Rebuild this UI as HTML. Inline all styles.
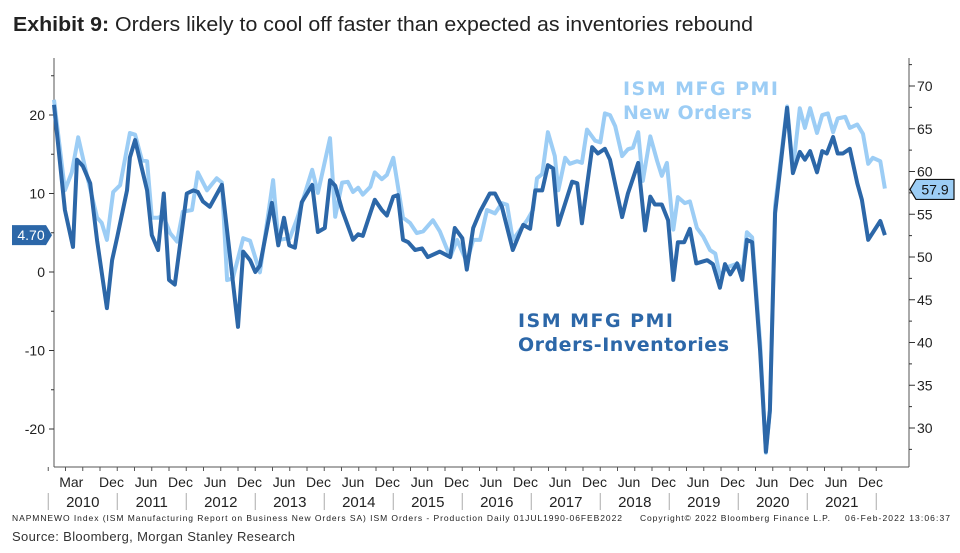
<!DOCTYPE html>
<html><head><meta charset="utf-8">
<style>
html,body{margin:0;padding:0;background:#fff;}
body{width:960px;height:553px;overflow:hidden;font-family:"Liberation Sans",sans-serif;}
svg{display:block}
</style></head>
<body>
<svg id="chart" width="960" height="553" viewBox="0 0 960 553">
<text x="13" y="31" font-size="20" fill="#222" textLength="740" lengthAdjust="spacingAndGlyphs"><tspan font-weight="bold">Exhibit 9:</tspan>  Orders likely to cool off faster than expected as inventories rebound</text>
<g id="axes"></g>
<g id="series"></g>
<text x="623" y="95" font-family="DejaVu Sans,sans-serif" font-weight="bold" font-size="19" fill="#9ccdf5" textLength="155">ISM MFG PMI</text>
<text x="623" y="119" font-family="DejaVu Sans,sans-serif" font-weight="bold" font-size="19" fill="#9ccdf5" textLength="129">New Orders</text>
<text x="518" y="327" font-family="DejaVu Sans,sans-serif" font-weight="bold" font-size="19" fill="#2c67a8" textLength="155">ISM MFG PMI</text>
<text x="518" y="351" font-family="DejaVu Sans,sans-serif" font-weight="bold" font-size="19" fill="#2c67a8" textLength="211">Orders-Inventories</text>
<text x="12" y="521" font-family="Liberation Sans Narrow,Liberation Sans,sans-serif" font-size="8.5" fill="#222" textLength="610">NAPMNEWO Index (ISM Manufacturing Report on Business New Orders SA) ISM Orders - Production  Daily 01JUL1990-06FEB2022</text>
<text x="640" y="521" font-family="Liberation Sans Narrow,Liberation Sans,sans-serif" font-size="8.5" fill="#222" textLength="190">Copyright© 2022 Bloomberg Finance L.P.</text>
<text x="845" y="521" font-family="Liberation Sans Narrow,Liberation Sans,sans-serif" font-size="8.5" fill="#222" textLength="105">06-Feb-2022 13:06:37</text>
<text x="12" y="541" font-size="13" fill="#333" textLength="283">Source: Bloomberg, Morgan Stanley Research</text>
</svg>
<script>
// months since Feb 2010
const darkMonths=[0,1.9,3.3,4,5,6.3,7.5,9.2,10.1,11,12.7,13.2,14.1,16.2,17,18.1,19.1,20,21,23.1,24.2,25,25.9,27.1,29.2,30.6,32,32.9,34.1,35,35.8,37.9,39,40,40.9,41.9,43.1,44.9,45.9,47.1,48,48.9,50.1,52,52.9,53.7,55,55.8,57,57.9,59,59.8,60.7,61.6,62.8,64,65,67.1,68.9,69.7,71,71.8,72.9,74.1,75.8,76.7,77.9,79.8,81.6,82.8,83.7,84.9,85.9,86.8,87.7,90.1,91,91.8,93.6,94.6,95.8,96.7,98.8,99.8,101.6,102.8,103.7,104.5,105.7,106.8,107.7,108.5,109.6,110.6,111.7,113.6,114.6,115.8,116.7,117.6,118.8,119.7,120.5,121.4,122.8,123.8,124.5,125.4,127.5,128.5,129.7,130.6,131.5,132.7,133.6,134.4,135.5,136.3,137.2,138.4,139.7,140.5,141.6,143.7,144.5];
const darkValues=[21.3,7.9,3.2,14.3,13.5,11.3,4,-4.6,1.5,4.5,10.4,14.6,16.8,10.4,4.7,2.8,10,-1,-1.6,10,10.4,10.2,9,8.3,11.1,2,-7,2.6,1.5,0,0.8,8.8,3.4,6.9,3.4,3.1,8.9,11.1,5.1,5.6,11.7,11,7.9,4.1,4.8,4.6,7.5,9.2,7.9,7.2,9.6,9.8,4.1,3.8,2.8,3,1.9,2.6,1.9,5.6,4.3,0.3,5.6,7.7,10,10,8.3,2.8,6,5.5,10.4,10.4,13.6,13.2,6,11.5,11.3,6.2,15.9,15.1,15.7,14.3,7,10,13.9,5.3,9.6,8.6,8.6,6.6,-1,3.8,3.8,5.5,1.1,1.5,1,-2,1,-0.3,1.1,-1,4.1,3.8,-10,-22.9,-17.6,7.5,20.9,12.6,15.3,14.3,15.4,12.7,15.4,15.1,17.2,15.1,15.1,15.7,11.3,9.2,4.1,6.5,4.7];
const lightMonths=[0,1.9,3.1,4.2,5.4,7.5,8.3,9.2,10.3,11.5,13.2,14.1,15.3,16.2,17,18.1,19,20.2,21.4,22.4,24,25,26.6,28.3,29.2,30.1,31.1,32.9,34.1,35.8,38.1,39,41,42.3,44.9,45.9,48,48.9,50.1,51.1,52,52.9,53.7,55,55.8,57,57.9,59,60.7,61.9,63.1,64.2,65.9,67.1,68.9,70.1,71.8,72.9,74.1,75.3,76.7,77.9,78.8,79.8,82.3,83.3,84,84.9,85.9,87.1,87.7,88.9,89.7,91,91.8,92.7,94.1,95,95.8,96.7,97.6,98.8,99.8,100.7,101.6,102.4,103.7,104.9,105.7,106.6,107.7,108.5,109.7,110.6,111.8,112.9,114.1,115,115.8,117,118.8,119.8,120.5,121.4,122.8,123.8,124.5,125.4,126.4,127.5,128.5,129.7,130.6,131.5,132.7,133.6,134.6,135.5,136.3,137.6,138.4,139.7,140.7,141.6,142.4,143.7,144.5];
const lightValues=[68.4,57.8,59.9,64,60.5,54.6,54,52,57.6,58.4,64.5,64.3,61.3,61.2,54.6,54.6,54.8,52.8,51.8,55.3,55.5,59.9,57.8,59.2,58.7,47.3,47.5,52.2,51.9,48.2,59,52,52.2,54.5,60.2,57.5,63.9,54.7,58.7,58.8,57.6,58.1,57.3,58.2,59.9,59.1,59.6,61.6,54.6,54,52.8,53,54.3,53,50,52,49.4,52,52,55.5,55.1,56.3,56.1,52,54.3,55.5,59.2,59.7,64.6,61.8,57.8,61.6,60.9,61.2,61,64.9,63.6,63.4,66.8,66.6,65.3,61.8,62.6,62.8,64.6,58.9,64.1,61.2,59.5,61,53.2,57,56.3,56.5,53.4,52.4,50.8,50.4,47.8,48.8,49.2,48.5,52.9,52.3,40,27.1,32,56,61.5,67.6,60.2,67.4,65.1,67.4,64.5,66.6,66.8,64.6,66.2,66.4,65.1,65.5,64.4,60.9,61.6,61.2,58];
const leftTicks=[20,10,0,-10,-20];
const rightTicks=[70,65,60,55,50,45,40,35,30];
const years=["2010","2011","2012","2013","2014","2015","2016","2017","2018","2019","2020","2021"];
const monthLabels=["Mar","Dec","Jun","Dec","Jun","Dec","Jun","Dec","Jun","Dec","Jun","Dec","Jun","Dec","Jun","Dec","Jun","Dec","Jun","Dec","Jun","Dec","Jun","Dec"];
const monthLabelMonths=[3,10,16,22,28,34,40,46,52,58,64,70,76,82,88,94,100,106,112,118,124,130,136,142];
const lastDark="4.70", lastLight="57.9";

const NS="http://www.w3.org/2000/svg";
const X0=54,X1=909,YT=58,YB=467;
const xs=m=>X0+m*5.75;
const yL=v=>272-v*7.85;
const yR=v=>257-(v-50)*8.55;
function mk(t,a,p){const e=document.createElementNS(NS,t);for(const k in a)e.setAttribute(k,a[k]);p.appendChild(e);return e;}
const ax=document.getElementById('axes'), se=document.getElementById('series');
let e;
e=mk('line',{x1:X0,y1:YT,x2:X0,y2:YB,stroke:'#555','stroke-width':1},ax);


e=mk('line',{x1:X1,y1:YT,x2:X1,y2:YB,stroke:'#555','stroke-width':1},ax);


e=mk('line',{x1:X0,y1:YB,x2:X1,y2:YB,stroke:'#555','stroke-width':1},ax);


for(let v=-25;v<=25;v+=5){const y=yL(v);if(y<YT||y>YB)continue;mk('line',{x1:X0-(v%10===0?5:3),y1:y,x2:X0,y2:y,stroke:'#333'},ax);}
leftTicks.forEach(v=>{const t=mk('text',{x:45,y:yL(v)+5,'text-anchor':'end','font-size':14,fill:'#222'},ax);t.textContent=v;

});
for(let v=27.5;v<=72.5;v+=2.5){const y=yR(v);if(y<YT||y>YB)continue;mk('line',{x1:X1,y1:y,x2:X1+(v%5===0?6:3),y2:y,stroke:'#333'},ax);}
rightTicks.forEach(v=>{const t=mk('text',{x:917,y:yR(v)+5,'font-size':14,fill:'#222'},ax);t.textContent=v;

});
for(let m=-1;m<=144;m+=3){mk('line',{x1:xs(m),y1:YB,x2:xs(m),y2:YB+4,stroke:'#555'},ax);}
monthLabelMonths.forEach((m,i)=>{const t=mk('text',{x:xs(m),y:487,'text-anchor':'middle','font-size':14,fill:'#222','font-family':'Liberation Sans Narrow,Liberation Sans,sans-serif'},ax);t.textContent=monthLabels[i];

});
years.forEach((y,i)=>{const s=xs(i*12-1);mk('line',{x1:s,y1:493,x2:s,y2:510,stroke:'#aaa'},ax);
const t=mk('text',{x:s+34.5,y:507,'text-anchor':'middle','font-size':15,fill:'#222','font-family':'Liberation Sans Narrow,Liberation Sans,sans-serif'},ax);t.textContent=y;

});
mk('line',{x1:xs(143),y1:493,x2:xs(143),y2:510,stroke:'#aaa'},ax);
const lp=lightMonths.map((m,i)=>xs(m).toFixed(1)+','+yR(lightValues[i]).toFixed(1)).join(' ');
e=mk('polyline',{points:lp,fill:'none',stroke:'#9ccdf5','stroke-width':4,'stroke-linejoin':'round'},se);


const dp=darkMonths.map((m,i)=>xs(m).toFixed(1)+','+yL(darkValues[i]).toFixed(1)).join(' ');
e=mk('polyline',{points:dp,fill:'none',stroke:'#2c67a8','stroke-width':4,'stroke-linejoin':'round'},se);


const yd=yL(+lastDark);
e=mk('path',{d:`M12 ${yd-10} H46 L52 ${yd} L46 ${yd+10} H12 Z`,fill:'#2c67a8'},se);


e=mk('text',{x:31,y:yd+5,'text-anchor':'middle','font-size':14,fill:'#fff'},se);e.textContent=lastDark;


const yl=yR(+lastLight);
e=mk('path',{d:`M910 ${yl} L916 ${yl-10} H954 V${yl+10} H916 Z`,fill:'#9ccdf5',stroke:'#111','stroke-width':1.2},se);


e=mk('text',{x:935,y:yl+5,'text-anchor':'middle','font-size':14,fill:'#111'},se);e.textContent=lastLight;


</script>
</body></html>
